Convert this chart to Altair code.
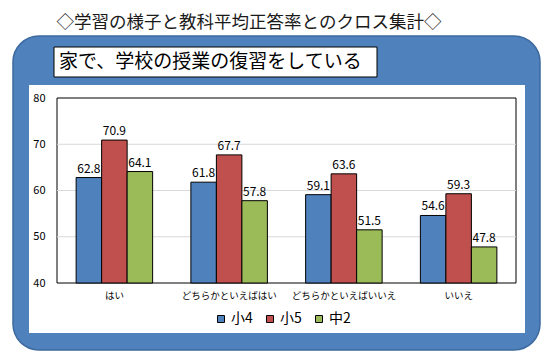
import altair as alt
import pandas as pd

categories = ["はい", "どちらかといえばはい", "どちらかといえばいいえ", "いいえ"]
series = ["小4", "小5", "中2"]
s4 = [62.8, 61.8, 59.1, 54.6]
s5 = [70.9, 67.7, 63.6, 59.3]
c2 = [64.1, 57.8, 51.5, 47.8]
colors = ["#4F81BD", "#C0504D", "#9BBB59"]
y_ticks = [40, 50, 60, 70, 80]
grid_values = [50, 60, 70]
title_text = "◇学習の様子と教科平均正答率とのクロス集計◇"
subtitle_text = "家で、学校の授業の復習をしている"

rows = []
for i, c in enumerate(categories):
    for s, vals in zip(series, [s4, s5, c2]):
        rows.append({"cat": c, "grp": s, "val": vals[i]})
df = pd.DataFrame(rows)

W, H = 459, 185
FONT = "Noto Sans CJK JP"
one = alt.Data(values=[{}])

yscale = alt.Scale(domain=[40, 80], zero=False, nice=False)

frame = alt.Chart(one).mark_rect(fill="#4F81BD", stroke="#3D6A9E", strokeWidth=1.5,
                                 cornerRadius=26).encode(
    x=alt.value(-44), x2=alt.value(483), y=alt.value(-62), y2=alt.value(252))
inner = alt.Chart(one).mark_rect(fill="white").encode(
    x=alt.value(-28), x2=alt.value(468), y=alt.value(-13), y2=alt.value(235))
subbox = alt.Chart(one).mark_rect(fill="white", stroke="black", strokeWidth=1).encode(
    x=alt.value(-3), x2=alt.value(320), y=alt.value(-51), y2=alt.value(-21))
subtext = alt.Chart(one).mark_text(text=subtitle_text, font=FONT, fontSize=19, align="left",
                                   baseline="middle", color="black").encode(
    x=alt.value(2), y=alt.value(-36))
titletext = alt.Chart(one).mark_text(text=title_text, font=FONT, fontSize=17.5, align="center",
                                     baseline="middle", color="#1a1a1a").encode(
    x=alt.value(192), y=alt.value(-75))
plotbg = alt.Chart(one).mark_rect(fill="white", stroke="black", strokeWidth=1).encode(
    x=alt.value(0), x2=alt.value(W), y=alt.value(0), y2=alt.value(H))

xaxis = alt.Axis(title=None, labelAngle=0, labelFontSize=9.5, labelFont=FONT, labelColor="black",
                 ticks=False, domain=False, labelPadding=7, zindex=1)
yaxis = alt.Axis(values=y_ticks, title=None, grid=False, ticks=False, domain=False,
                 labelPadding=12, labelFontSize=11, labelFont=FONT, labelColor="black", zindex=1)

grid = alt.Chart(pd.DataFrame({"val": grid_values})).mark_rule(color="#D9D9D9", strokeWidth=1).encode(
    y=alt.Y("val:Q", scale=yscale, axis=yaxis))

xenc = alt.X("cat:N", sort=categories, scale=alt.Scale(paddingInner=0, paddingOuter=0), axis=xaxis)
xoff = alt.XOffset("grp:N", sort=series, scale=alt.Scale(paddingInner=0, paddingOuter=0.75))
yenc = alt.Y("val:Q", scale=yscale, axis=yaxis, stack=None)

bars = alt.Chart(df).mark_bar(stroke="black", strokeWidth=1).encode(
    x=xenc, xOffset=xoff, y=yenc, y2=alt.datum(40),
    color=alt.Color("grp:N", sort=series, scale=alt.Scale(domain=series, range=colors),
                    legend=alt.Legend(orient="none", legendX=157, legendY=214, direction="horizontal",
                                      title=None, symbolType="square", symbolSize=49,
                                      symbolStrokeColor="black", symbolStrokeWidth=1,
                                      labelFontSize=14, labelFont=FONT, labelColor="black",
                                      columnPadding=10, labelOffset=3, padding=0)))

labels = alt.Chart(df).mark_text(dy=-5, baseline="alphabetic", fontSize=12, font=FONT,
                                 color="black").encode(
    x=xenc, xOffset=xoff, y=yenc, text=alt.Text("val:Q", format=".1f"))

chart = alt.layer(frame, inner, subbox, subtext, titletext, plotbg, grid, bars, labels).properties(
    width=W, height=H,
    padding={"left": 49, "top": 90, "right": 26, "bottom": 72},
    autosize=alt.AutoSizeParams(type="none"),
    background="white",
).configure_view(stroke=None)

chart.save("out.html", embed_options={"renderer": "svg", "actions": False})
